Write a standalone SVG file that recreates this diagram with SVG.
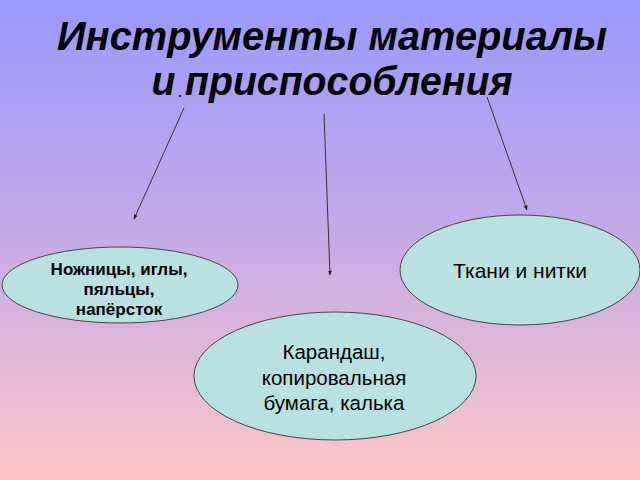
<svg xmlns="http://www.w3.org/2000/svg" width="640" height="480" viewBox="0 0 640 480">
<defs>
<linearGradient id="bg" x1="0" y1="0" x2="0" y2="1">
<stop offset="0" stop-color="#9a99fe"/>
<stop offset="0.45" stop-color="#c2a8e9"/>
<stop offset="1" stop-color="#fec6c8"/>
</linearGradient>
<marker id="ah" viewBox="0 0 10 10" refX="9" refY="5" markerWidth="5" markerHeight="5" orient="auto">
<path d="M0,1 L10,5 L0,9 z" fill="#222"/>
</marker>
<style>
.node{fill:#b8e1e2;stroke:#444;stroke-width:1}
.t{font-family:"Liberation Sans",Arial,sans-serif;fill:#000;text-anchor:middle}
.title{font-size:41px;font-weight:bold;font-style:italic}
.conn line{stroke:#333;stroke-width:1;marker-end:url(#ah)}
</style>
</defs>
<rect width="640" height="480" fill="url(#bg)"/>
<g id="title">
<text class="t title" x="332" y="50" textLength="550" lengthAdjust="spacingAndGlyphs">Инструменты  материалы</text>
<text class="t title" x="332" y="95" textLength="361" lengthAdjust="spacingAndGlyphs">и<tspan font-size="12" dy="2"> . </tspan><tspan dy="-2">приспособления</tspan></text>
</g>
<g id="connectors" class="conn">
<line x1="184" y1="108" x2="134" y2="219"/>
<line x1="324" y1="114" x2="330" y2="275"/>
<line x1="487" y1="97" x2="527" y2="210"/>
</g>
<g id="node-left">
<ellipse class="node" cx="120" cy="285" rx="118" ry="38"/>
<text class="t" font-size="17" font-weight="bold"><tspan x="119" y="275">Ножницы, иглы,</tspan><tspan x="119" y="295">пяльцы,</tspan><tspan x="119" y="315">напёрсток</tspan></text>
</g>
<g id="node-middle">
<ellipse class="node" cx="335" cy="376" rx="141" ry="64"/>
<text class="t" font-size="20.5"><tspan x="334" y="359">Карандаш,</tspan><tspan x="334" y="385">копировальная</tspan><tspan x="334" y="410">бумага, калька</tspan></text>
</g>
<g id="node-right">
<ellipse class="node" cx="520" cy="270" rx="120" ry="55"/>
<text class="t" font-size="21" x="520" y="278">Ткани и нитки</text>
</g>
</svg>
